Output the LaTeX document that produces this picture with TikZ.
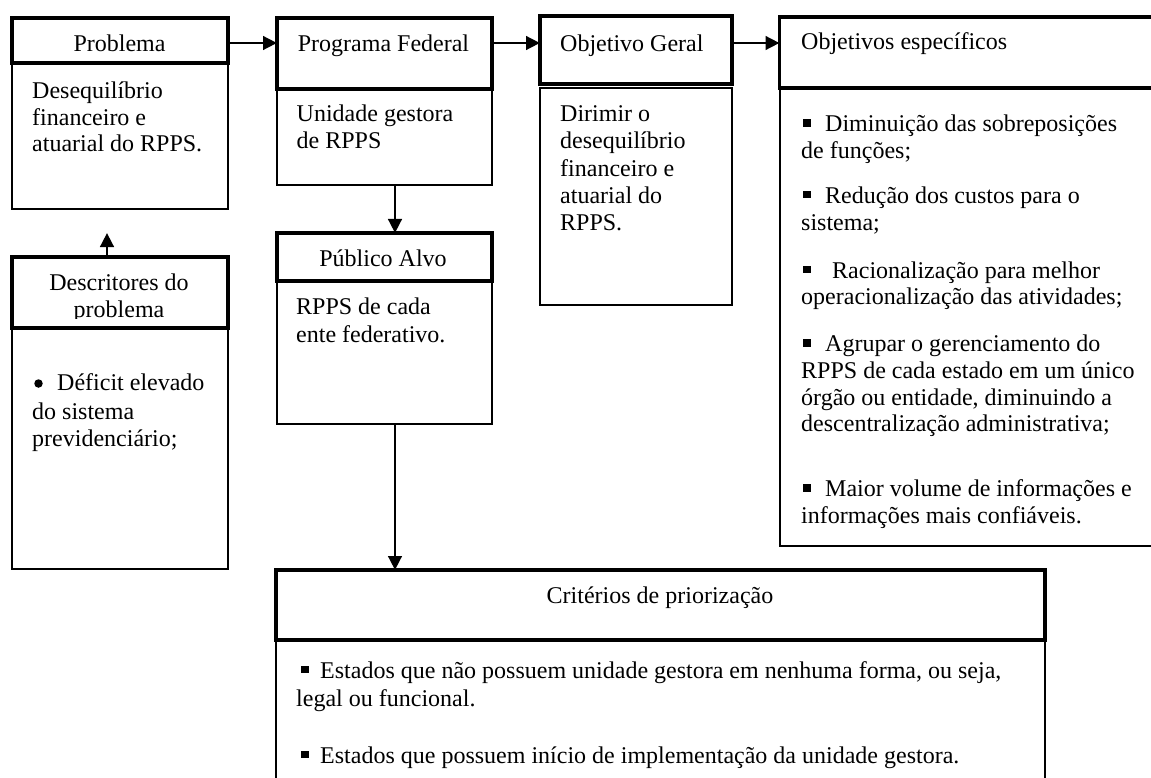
\documentclass[tikz,border=0pt]{standalone}
\usepackage{fontspec}
\setmainfont{Liberation Serif}
\usetikzlibrary{arrows.meta}
\newcommand\mysq{\rule[5pt]{7.5pt}{7.5pt}}
\begin{document}
\begin{tikzpicture}[x=1pt,y=-1pt,
  txt/.style={anchor=base west, inner sep=0pt, font=\fontsize{24pt}{27.5pt}\selectfont},
  ctxt/.style={anchor=base, inner sep=0pt, font=\fontsize{24pt}{27.5pt}\selectfont},
  hbox/.style={draw, line width=3.5pt, anchor=north west, inner sep=0pt, outer sep=0pt},
  bbox/.style={draw, line width=1.4pt, anchor=north west, inner sep=0pt, outer sep=0pt},
  dot/.style={circle, fill, inner sep=0pt, minimum size=8.5pt},
  arr/.style={line width=2.8pt, -{Triangle[length=14pt,width=13.5pt]}}]
\path[fill=white, use as bounding box] (0,0) rectangle (1151,778);

% boxes: bodies first, then headers
\node[bbox, minimum width=216pt, minimum height=146pt] (probb) at (12,63) {};
\node[hbox, minimum width=216pt, minimum height=45pt] (probh) at (12,18) {};
\node[bbox, minimum width=215pt, minimum height=96pt] (progb) at (277,89) {};
\node[hbox, minimum width=215pt, minimum height=71pt] (progh) at (277,18) {};
\node[bbox, minimum width=215pt, minimum height=143pt] (pubb) at (277,281) {};
\node[hbox, minimum width=215pt, minimum height=48pt] (pubh) at (277,233) {};
\node[bbox, minimum width=216pt, minimum height=241pt] (descb) at (12,328) {};
\node[hbox, minimum width=216pt, minimum height=71pt] (desch) at (12,257) {};
\node[bbox, minimum width=192pt, minimum height=217pt] (objb) at (540,88) {};
\node[hbox, line width=4pt, minimum width=192pt, minimum height=68pt] (objh) at (540,16) {};
\node[bbox, line width=2pt, minimum width=400pt, minimum height=458pt] (espb) at (779.5,88) {};
\node[hbox, minimum width=400pt, minimum height=71pt] (esph) at (779.5,17) {};
\node[bbox, minimum width=769pt, minimum height=160pt] (critb) at (276,640) {};
\node[hbox, minimum width=769pt, minimum height=70pt] (crith) at (276,570) {};

% helper coordinates for connector lines
\coordinate (row) at (0,43);
\coordinate (colA) at (395,0);
\coordinate (colB) at (107,0);
\coordinate (tipD) at (107,233);

% connectors
\draw[arr] (probh.east |- row) -- (progh.west |- row);
\draw[arr] (progh.east |- row) -- (objh.west |- row);
\draw[arr] (objh.east |- row) -- (esph.west |- row);
\draw[arr] (progb.south -| colA) -- (pubh.north -| colA);
\draw[arr] (pubb.south -| colA) -- (crith.north -| colA);
\draw[arr] (desch.north -| colB) -- (tipD);

% Problema
\node[ctxt] (tProb) at (119.5,51.7) {Problema};
\node[txt] (tProb1) at (32,99) {Desequilíbrio};
\node[txt] (tProb2) at (32,125.5) {financeiro e};
\node[txt] (tProb3) at (32,152) {atuarial do RPPS.};

% Programa Federal
\node[ctxt] (tProg) at (383.5,51.7) {Programa Federal};
\node[txt] (tProg1) at (296.5,121.7) {Unidade gestora};
\node[txt] (tProg2) at (296.5,148.5) {de RPPS};

% Objetivo Geral
\node[txt] (tObj) at (560,51.7) {Objetivo Geral};
\node[txt] (tObj1) at (560,121.7) {Dirimir o};
\node[txt] (tObj2) at (560,149) {desequilíbrio};
\node[txt] (tObj3) at (560,176.3) {financeiro e};
\node[txt] (tObj4) at (560,203.6) {atuarial do};
\node[txt] (tObj5) at (560,231) {RPPS.};

% Objetivos especificos
\node[txt] (tEsp) at (801,50) {Objetivos específicos};
\node[txt] (tEsp1) at (803,131.7) {\mysq\hspace{14.5pt}Diminuição das sobreposições};
\node[txt] (tEsp2) at (801,158.3) {de funções;};
\node[txt] (tEsp3) at (803,203.3) {\mysq\hspace{14.5pt}Redução dos custos para o};
\node[txt] (tEsp4) at (801,230) {sistema;};
\node[txt] (tEsp5) at (803,278) {\mysq\hspace{21.5pt}Racionalização para melhor};
\node[txt] (tEsp6) at (801,304.5) {operacionalização das atividades;};
\node[txt] (tEsp7) at (803,351.7) {\mysq\hspace{14.5pt}Agrupar o gerenciamento do};
\node[txt] (tEsp8) at (801,378) {RPPS de cada estado em um único};
\node[txt] (tEsp9) at (801,405) {órgão ou entidade, diminuindo a};
\node[txt] (tEsp10) at (801,431.7) {descentralização administrativa;};
\node[txt] (tEsp11) at (803,496.7) {\mysq\hspace{14.5pt}Maior volume de informações e};
\node[txt] (tEsp12) at (801,523) {informações mais confiáveis.};

% Descritores do problema
\begin{scope}
\clip (12,257) rectangle (228,318);
\node[ctxt] (tDesc1) at (119,290) {Descritores do};
\node[ctxt] (tDesc2) at (119,317) {problema};
\end{scope}
\node[dot] (bulD) at (38.5,383.5) {};
\node[txt] (tDescA) at (57,390.7) {Déficit elevado};
\node[txt] (tDescB) at (32,419) {do sistema};
\node[txt] (tDescC) at (32,446.7) {previdenciário;};

% Publico Alvo
\node[ctxt] (tPub) at (383,266.7) {Público Alvo};
\node[txt] (tPub1) at (296,314.3) {RPPS de cada};
\node[txt] (tPub2) at (296,342.7) {ente federativo.};

% Criterios de priorizacao
\node[ctxt] (tCrit) at (660,603.3) {Critérios de priorização};
\node[txt] (tCrit1) at (301,678.3) {\mysq\hspace{11.5pt}Estados que não possuem unidade gestora em nenhuma forma, ou seja,};
\node[txt] (tCrit2) at (296,706.7) {legal ou funcional.};
\node[txt] (tCrit3) at (301,763.3) {\mysq\hspace{11.5pt}Estados que possuem início de implementação da unidade gestora.};
\end{tikzpicture}
\end{document}
